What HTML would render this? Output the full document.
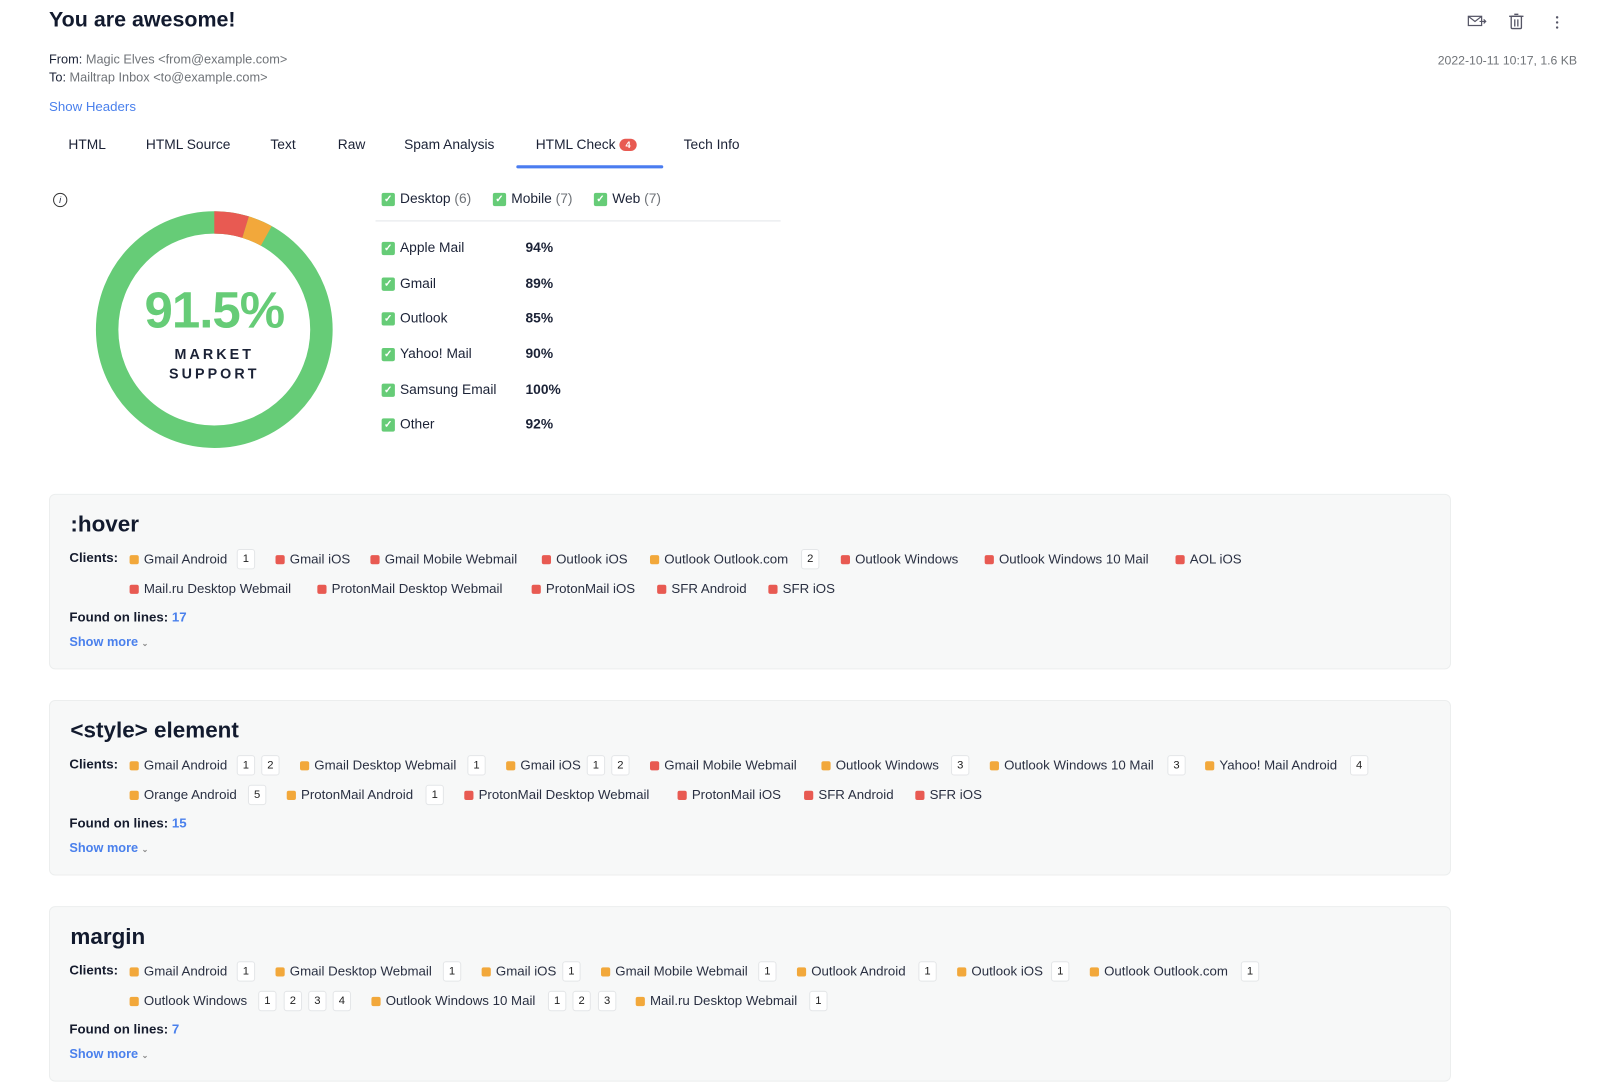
<!DOCTYPE html>
<html><head><meta charset="utf-8"><style>
*{margin:0;padding:0;box-sizing:border-box}
body{width:1600px;height:1088px;background:#fff;font-family:"Liberation Sans",sans-serif;color:#1b2236;position:relative;overflow:hidden}
#w{position:absolute;left:0;top:0;width:1568px;height:1067px;transform:scale(1.0204);transform-origin:0 0}
.a{position:absolute;white-space:nowrap}
.g{color:#6f7378}
.cb{position:absolute;width:13px;height:13px;background:#66cc77;border-radius:2px;color:#fff;font-size:10px;line-height:13px;text-align:center;font-weight:bold}
.card{position:absolute;left:48px;width:1374px;height:172px;background:#f7f8f8;border:1px solid #eceeee;border-radius:6px}
.t{position:absolute;left:20px;top:16px;font-size:22px;font-weight:bold;color:#121a2e}
.it{position:absolute;font-size:13px;color:#2a3042;white-space:nowrap;line-height:18px}
.d{position:absolute;width:9px;height:9px;border-radius:2px}
.o{background:#f2a83b}.r{background:#e85a52}
.b{position:absolute;width:18px;height:20px;border:1px solid #e4e6e8;background:#fff;border-radius:3px;font-size:11px;text-align:center;line-height:18px;color:#222}
.lb{position:absolute;font-size:13px;font-weight:bold;color:#151b2d}
.sm{position:absolute;font-size:12.5px;font-weight:bold;color:#4a80ec}
</style></head><body><div id="w">
<div class="a" style="left:48px;top:8px;font-size:21px;font-weight:bold;color:#121a2e">You are awesome!</div>
<div class="a" style="left:48px;top:51px;font-size:12.5px">From: <span class="g">Magic Elves &lt;from@example.com&gt;</span></div>
<div class="a" style="left:48px;top:69px;font-size:12.5px">To: <span class="g">Mailtrap Inbox &lt;to@example.com&gt;</span></div>
<div class="a" style="left:48px;top:97px;font-size:13px;color:#4a80ec">Show Headers</div>
<div class="a g" style="left:1409px;top:52px;font-size:12px">2022-10-11 10:17, 1.6 KB</div>
<svg class="a" style="left:1436px;top:12px" width="100" height="20"><rect x="3" y="4" width="13" height="9" fill="none" stroke="#556" stroke-width="1.2"/><path d="M3 4l6.5 5 6.5-5M14 9h6m-2-2l2 2-2 2" fill="none" stroke="#556" stroke-width="1.2"/><rect x="45" y="4" width="10" height="12" rx="1" fill="none" stroke="#556" stroke-width="1.3"/><path d="M43 4h14M48 2h4M48.5 7v7M51.5 7v7" stroke="#556" stroke-width="1.3"/><circle cx="90" cy="5" r="1.2" fill="#556"/><circle cx="90" cy="10" r="1.2" fill="#556"/><circle cx="90" cy="15" r="1.2" fill="#556"/></svg>
<div class="a" style="left:67px;top:134px;font-size:13.5px">HTML</div>
<div class="a" style="left:143px;top:134px;font-size:13.5px">HTML Source</div>
<div class="a" style="left:265px;top:134px;font-size:13.5px">Text</div>
<div class="a" style="left:331px;top:134px;font-size:13.5px">Raw</div>
<div class="a" style="left:396px;top:134px;font-size:13.5px">Spam Analysis</div>
<div class="a" style="left:525px;top:134px;font-size:13.5px">HTML Check <span style="display:inline-block;background:#e85a52;color:#fff;font-size:9px;font-weight:bold;border-radius:6px;padding:0 6px;line-height:12px;vertical-align:1px">4</span></div>
<div class="a" style="left:670px;top:134px;font-size:13.5px">Tech Info</div>
<div class="a" style="left:506px;top:162px;width:144px;height:3px;background:#4a7cf0;border-radius:2px"></div>
<div class="a" style="left:52px;top:189px;width:14px;height:14px;border:1.2px solid #333;border-radius:50%;font-size:9px;text-align:center;line-height:12px;font-style:italic">i</div>
<svg class="a" style="left:90px;top:203px" width="240" height="240"><circle cx="120" cy="120" r="105" fill="none" stroke="#66cc77" stroke-width="22"/><circle cx="120" cy="120" r="105" fill="none" stroke="#e85a52" stroke-width="22" stroke-dasharray="31.2 700" transform="rotate(-90 120 120)"/><circle cx="120" cy="120" r="105" fill="none" stroke="#f2a83b" stroke-width="22" stroke-dasharray="0 31.2 22 700" transform="rotate(-90 120 120)"/></svg>
<div class="a" style="left:110px;top:275px;width:200px;text-align:center;font-size:50px;font-weight:bold;color:#66cc77;letter-spacing:-1px">91.5%</div>
<div class="a" style="left:110px;top:338px;width:200px;text-align:center;font-size:14px;font-weight:bold;letter-spacing:3px;line-height:19px">MARKET<br>SUPPORT</div>
<div class="cb" style="left:374px;top:189px">✓</div><div class="a" style="left:392px;top:187px;font-size:13.5px">Desktop <span class="g">(6)</span></div>
<div class="cb" style="left:483px;top:189px">✓</div><div class="a" style="left:501px;top:187px;font-size:13.5px">Mobile <span class="g">(7)</span></div>
<div class="cb" style="left:582px;top:189px">✓</div><div class="a" style="left:600px;top:187px;font-size:13.5px">Web <span class="g">(7)</span></div>
<div class="a" style="left:368px;top:216px;width:397px;height:1px;background:#e3e6ea"></div>
<div class="cb" style="left:374px;top:237px">✓</div><div class="a" style="left:392px;top:235px;font-size:13.5px">Apple Mail</div><div class="a" style="left:515px;top:235px;font-size:13.5px;font-weight:bold">94%</div>
<div class="cb" style="left:374px;top:272px">✓</div><div class="a" style="left:392px;top:270px;font-size:13.5px">Gmail</div><div class="a" style="left:515px;top:270px;font-size:13.5px;font-weight:bold">89%</div>
<div class="cb" style="left:374px;top:306px">✓</div><div class="a" style="left:392px;top:304px;font-size:13.5px">Outlook</div><div class="a" style="left:515px;top:304px;font-size:13.5px;font-weight:bold">85%</div>
<div class="cb" style="left:374px;top:341px">✓</div><div class="a" style="left:392px;top:339px;font-size:13.5px">Yahoo! Mail</div><div class="a" style="left:515px;top:339px;font-size:13.5px;font-weight:bold">90%</div>
<div class="cb" style="left:374px;top:376px">✓</div><div class="a" style="left:392px;top:374px;font-size:13.5px">Samsung Email</div><div class="a" style="left:515px;top:374px;font-size:13.5px;font-weight:bold">100%</div>
<div class="cb" style="left:374px;top:410px">✓</div><div class="a" style="left:392px;top:408px;font-size:13.5px">Other</div><div class="a" style="left:515px;top:408px;font-size:13.5px;font-weight:bold">92%</div>

<div class="card" style="top:484px">
<div class="t">:hover</div>
<div class="lb" style="left:19px;top:54px">Clients:</div>
<div class="d o" style="left:78px;top:59px"></div><div class="it" style="left:92px;top:54px">Gmail Android</div><div class="b" style="left:183px;top:53px">1</div>
<div class="d r" style="left:221px;top:59px"></div><div class="it" style="left:235px;top:54px">Gmail iOS</div>
<div class="d r" style="left:314px;top:59px"></div><div class="it" style="left:328px;top:54px">Gmail Mobile Webmail</div>
<div class="d r" style="left:482px;top:59px"></div><div class="it" style="left:496px;top:54px">Outlook iOS</div>
<div class="d o" style="left:588px;top:59px"></div><div class="it" style="left:602px;top:54px">Outlook Outlook.com</div><div class="b" style="left:736px;top:53px">2</div>
<div class="d r" style="left:775px;top:59px"></div><div class="it" style="left:789px;top:54px">Outlook Windows</div>
<div class="d r" style="left:916px;top:59px"></div><div class="it" style="left:930px;top:54px">Outlook Windows 10 Mail</div>
<div class="d r" style="left:1103px;top:59px"></div><div class="it" style="left:1117px;top:54px">AOL iOS</div>
<div class="d r" style="left:78px;top:88px"></div><div class="it" style="left:92px;top:83px">Mail.ru Desktop Webmail</div>
<div class="d r" style="left:262px;top:88px"></div><div class="it" style="left:276px;top:83px">ProtonMail Desktop Webmail</div>
<div class="d r" style="left:472px;top:88px"></div><div class="it" style="left:486px;top:83px">ProtonMail iOS</div>
<div class="d r" style="left:595px;top:88px"></div><div class="it" style="left:609px;top:83px">SFR Android</div>
<div class="d r" style="left:704px;top:88px"></div><div class="it" style="left:718px;top:83px">SFR iOS</div>
<div class="lb" style="left:19px;top:112px">Found on lines: <span style="color:#4a80ec">17</span></div>
<div class="sm" style="left:19px;top:137px">Show more <span style="font-size:8px;color:#888">⌄</span></div>
</div>

<div class="card" style="top:686px">
<div class="t">&lt;style&gt; element</div>
<div class="lb" style="left:19px;top:54px">Clients:</div>
<div class="d o" style="left:78px;top:59px"></div><div class="it" style="left:92px;top:54px">Gmail Android</div><div class="b" style="left:183px;top:53px">1</div><div class="b" style="left:207px;top:53px">2</div>
<div class="d o" style="left:245px;top:59px"></div><div class="it" style="left:259px;top:54px">Gmail Desktop Webmail</div><div class="b" style="left:409px;top:53px">1</div>
<div class="d o" style="left:447px;top:59px"></div><div class="it" style="left:461px;top:54px">Gmail iOS</div><div class="b" style="left:526px;top:53px">1</div><div class="b" style="left:550px;top:53px">2</div>
<div class="d r" style="left:588px;top:59px"></div><div class="it" style="left:602px;top:54px">Gmail Mobile Webmail</div>
<div class="d o" style="left:756px;top:59px"></div><div class="it" style="left:770px;top:54px">Outlook Windows</div><div class="b" style="left:883px;top:53px">3</div>
<div class="d o" style="left:921px;top:59px"></div><div class="it" style="left:935px;top:54px">Outlook Windows 10 Mail</div><div class="b" style="left:1095px;top:53px">3</div>
<div class="d o" style="left:1132px;top:59px"></div><div class="it" style="left:1146px;top:54px">Yahoo! Mail Android</div><div class="b" style="left:1274px;top:53px">4</div>
<div class="d o" style="left:78px;top:88px"></div><div class="it" style="left:92px;top:83px">Orange Android</div><div class="b" style="left:194px;top:82px">5</div>
<div class="d o" style="left:232px;top:88px"></div><div class="it" style="left:246px;top:83px">ProtonMail Android</div><div class="b" style="left:368px;top:82px">1</div>
<div class="d r" style="left:406px;top:88px"></div><div class="it" style="left:420px;top:83px">ProtonMail Desktop Webmail</div>
<div class="d r" style="left:615px;top:88px"></div><div class="it" style="left:629px;top:83px">ProtonMail iOS</div>
<div class="d r" style="left:739px;top:88px"></div><div class="it" style="left:753px;top:83px">SFR Android</div>
<div class="d r" style="left:848px;top:88px"></div><div class="it" style="left:862px;top:83px">SFR iOS</div>
<div class="lb" style="left:19px;top:112px">Found on lines: <span style="color:#4a80ec">15</span></div>
<div class="sm" style="left:19px;top:137px">Show more <span style="font-size:8px;color:#888">⌄</span></div>
</div>

<div class="card" style="top:888px">
<div class="t">margin</div>
<div class="lb" style="left:19px;top:54px">Clients:</div>
<div class="d o" style="left:78px;top:59px"></div><div class="it" style="left:92px;top:54px">Gmail Android</div><div class="b" style="left:183px;top:53px">1</div>
<div class="d o" style="left:221px;top:59px"></div><div class="it" style="left:235px;top:54px">Gmail Desktop Webmail</div><div class="b" style="left:385px;top:53px">1</div>
<div class="d o" style="left:423px;top:59px"></div><div class="it" style="left:437px;top:54px">Gmail iOS</div><div class="b" style="left:502px;top:53px">1</div>
<div class="d o" style="left:540px;top:59px"></div><div class="it" style="left:554px;top:54px">Gmail Mobile Webmail</div><div class="b" style="left:694px;top:53px">1</div>
<div class="d o" style="left:732px;top:59px"></div><div class="it" style="left:746px;top:54px">Outlook Android</div><div class="b" style="left:851px;top:53px">1</div>
<div class="d o" style="left:889px;top:59px"></div><div class="it" style="left:903px;top:54px">Outlook iOS</div><div class="b" style="left:981px;top:53px">1</div>
<div class="d o" style="left:1019px;top:59px"></div><div class="it" style="left:1033px;top:54px">Outlook Outlook.com</div><div class="b" style="left:1167px;top:53px">1</div>
<div class="d o" style="left:78px;top:88px"></div><div class="it" style="left:92px;top:83px">Outlook Windows</div><div class="b" style="left:204px;top:82px">1</div><div class="b" style="left:229px;top:82px">2</div><div class="b" style="left:253px;top:82px">3</div><div class="b" style="left:277px;top:82px">4</div>
<div class="d o" style="left:315px;top:88px"></div><div class="it" style="left:329px;top:83px">Outlook Windows 10 Mail</div><div class="b" style="left:488px;top:82px">1</div><div class="b" style="left:512px;top:82px">2</div><div class="b" style="left:537px;top:82px">3</div>
<div class="d o" style="left:574px;top:88px"></div><div class="it" style="left:588px;top:83px">Mail.ru Desktop Webmail</div><div class="b" style="left:744px;top:82px">1</div>
<div class="lb" style="left:19px;top:112px">Found on lines: <span style="color:#4a80ec">7</span></div>
<div class="sm" style="left:19px;top:137px">Show more <span style="font-size:8px;color:#888">⌄</span></div>
</div>
</div></body></html>
